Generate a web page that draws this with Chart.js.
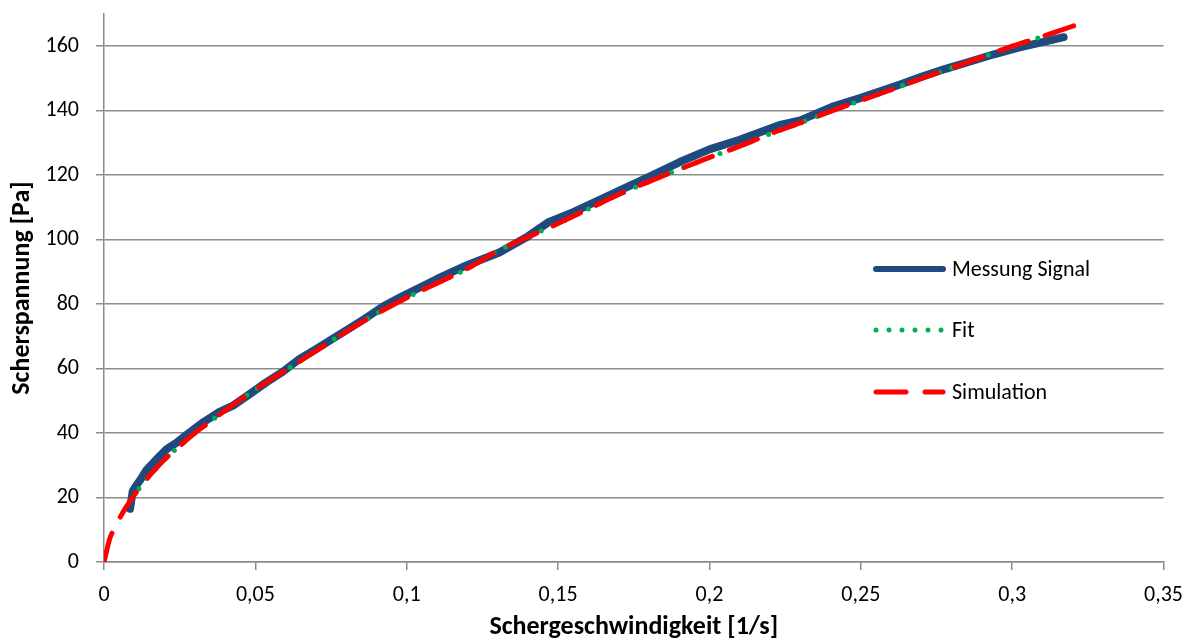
<!DOCTYPE html>
<html>
<head>
<meta charset="utf-8">
<script src="https://cdn.jsdelivr.net/npm/chart.js@4.4.1/dist/chart.umd.min.js"></script>
<style>
  html, body { margin: 0; padding: 0; background: #fff; }
  #wrap { width: 1195px; height: 640px; }
</style>
</head>
<body>
<div id="wrap"><canvas id="chart"></canvas></div>
<script>
// Messung Signal (measured)
const messX = [0.0086, 0.0090, 0.0095, 0.0105, 0.012, 0.014, 0.016, 0.018, 0.0207, 0.024,
  0.0284, 0.033, 0.038, 0.0426, 0.048, 0.0537, 0.059, 0.0646, 0.070, 0.076,
  0.082, 0.087, 0.092, 0.098, 0.104, 0.110, 0.1197, 0.1306, 0.140, 0.147,
  0.155, 0.163, 0.172, 0.180, 0.190, 0.200, 0.210, 0.223, 0.230, 0.2405,
  0.250, 0.2625, 0.270, 0.278, 0.2856, 0.294, 0.3021, 0.310, 0.317];
const messY = [16.5, 19, 22, 23.5, 25.5, 28.5, 30.5, 32.5, 35, 37,
  40.3, 43.5, 46.5, 48.5, 52, 55.8, 59, 63, 66, 69.5,
  73, 76, 79.2, 82.2, 85, 87.8, 92, 96, 101, 105.5,
  108.5, 112, 116, 119.5, 124, 128, 131, 135.5, 137, 141.2,
  144, 148, 150.5, 153, 155.1, 157.5, 159.6, 161.3, 162.8];

// Fit
const fitX = [0.009, 0.010, 0.013, 0.016, 0.020, 0.025, 0.030, 0.035, 0.040, 0.050,
  0.060, 0.070, 0.080, 0.090, 0.100, 0.110, 0.120, 0.130, 0.140, 0.150,
  0.160, 0.170, 0.180, 0.190, 0.200, 0.210, 0.220, 0.230, 0.240, 0.250,
  0.260, 0.270, 0.280, 0.290, 0.300, 0.310, 0.3147];
const fitY = [19.5, 20.8, 24.5, 27.8, 31.8, 36, 40, 43.5, 47, 53.5,
  59.5, 65.5, 71.5, 77, 82, 86.5, 91, 96.5, 100.8, 105,
  109.5, 114, 118, 121.8, 125.5, 129, 132.8, 136.2, 139.8, 143.2,
  146.5, 150, 153.3, 156.6, 160, 163, 164.5];

// Simulation
const simX = [0, 0.002, 0.004, 0.006, 0.008, 0.010, 0.013, 0.016, 0.020, 0.025,
  0.030, 0.035, 0.040, 0.050, 0.060, 0.070, 0.080, 0.090, 0.100, 0.110,
  0.120, 0.130, 0.140, 0.150, 0.160, 0.170, 0.180, 0.190, 0.200, 0.210,
  0.220, 0.230, 0.240, 0.250, 0.260, 0.270, 0.280, 0.290, 0.300, 0.310,
  0.3147, 0.3252];
const simY = [0, 7.5, 11.5, 15, 18, 20.8, 24.5, 27.8, 31.8, 36,
  40, 43.5, 47, 53.5, 59.5, 65.5, 71.5, 77, 82, 86.5,
  91, 96.5, 100.8, 105, 109.5, 114, 118, 121.8, 125.5, 129,
  132.8, 136.2, 139.8, 143.2, 146.5, 150, 153.3, 156.6, 160, 163,
  164.5, 167.9];

const seriesNames = ['Messung Signal', 'Fit', 'Simulation'];
const xTitle = 'Schergeschwindigkeit [1/s]';
const yTitle = 'Scherspannung [Pa]';

const FONT = 'Carlito, Calibri, Lato, sans-serif';
const GRID = '#8c8c8c';
const BLUE = '#1f4a7e';
const GREEN = '#00b050';
const RED = '#ff0000';

function pts(xs, ys) {
  return xs.map((x, i) => ({ x: x, y: ys[i] }));
}

// legend drawn inside the plot, right side
const innerLegend = {
  id: 'innerLegend',
  afterDraw(chart) {
    const ctx = chart.ctx;
    const x0 = 873, x1 = 946, tx = 952;
    const rows = [269, 330, 392];
    ctx.save();
    ctx.lineCap = 'round';
    // Messung
    ctx.strokeStyle = BLUE; ctx.lineWidth = 6; ctx.setLineDash([]);
    ctx.beginPath(); ctx.moveTo(x0 + 3, rows[0]); ctx.lineTo(x1 - 3, rows[0]); ctx.stroke();
    // Fit
    ctx.strokeStyle = GREEN; ctx.lineWidth = 5; ctx.setLineDash([0, 13]);
    ctx.beginPath(); ctx.moveTo(x0 + 3, rows[1]); ctx.lineTo(x1, rows[1]); ctx.stroke();
    // Simulation
    ctx.strokeStyle = RED; ctx.lineWidth = 5; ctx.setLineDash([30, 19]);
    ctx.beginPath(); ctx.moveTo(x0 + 3, rows[2]); ctx.lineTo(x1 - 3, rows[2]); ctx.stroke();
    ctx.setLineDash([]);
    ctx.fillStyle = '#000';
    ctx.font = '22px ' + FONT;
    ctx.textBaseline = 'middle';
    ctx.textAlign = 'left';
    rows.forEach((y, i) => ctx.fillText(seriesNames[i], tx, y + 1));
    ctx.restore();
  }
};

new Chart(document.getElementById('chart'), {
  type: 'scatter',
  data: {
    datasets: [
      {
        label: seriesNames[0],
        data: pts(messX, messY),
        showLine: true,
        borderColor: BLUE,
        borderWidth: 8,
        borderCapStyle: 'round',
        borderJoinStyle: 'round',
        pointRadius: 0,
        tension: 0,
        order: 3
      },
      {
        label: seriesNames[1],
        data: pts(fitX, fitY),
        showLine: true,
        borderColor: GREEN,
        borderWidth: 5,
        borderDash: [0, 13],
        borderCapStyle: 'round',
        pointRadius: 0,
        tension: 0.3,
        order: 2
      },
      {
        label: seriesNames[2],
        data: pts(simX, simY),
        showLine: true,
        borderColor: RED,
        borderWidth: 5,
        borderDash: [30, 18],
        borderCapStyle: 'round',
        pointRadius: 0,
        tension: 0.3,
        order: 1
      }
    ]
  },
  options: {
    responsive: true,
    maintainAspectRatio: false,
    animation: false,
    layout: { padding: { top: 14, right: 29, left: 0, bottom: 0 } },
    plugins: {
      legend: { display: false },
      tooltip: { enabled: false }
    },
    scales: {
      x: {
        type: 'linear',
        min: 0,
        max: 0.35,
        afterFit(scale) { scale.height = 78; },
        ticks: {
          stepSize: 0.05,
          padding: 12,
          color: '#000',
          font: { family: FONT, size: 22 },
          maxRotation: 0,
          callback: v => String(Math.round(v * 100) / 100).replace('.', ',')
        },
        grid: {
          display: true,
          drawOnChartArea: false,
          drawTicks: true,
          tickLength: 8,
          color: GRID,
          lineWidth: 1.5
        },
        border: { display: true, color: GRID, width: 1.5 },
        title: {
          display: true,
          text: xTitle,
          color: '#000',
          font: { family: FONT, size: 26, weight: 'bold', lineHeight: 1 },
          padding: { top: 0, bottom: 0 }
        }
      },
      y: {
        type: 'linear',
        min: 0,
        max: 170,
        afterFit(scale) {
          scale.width = 104;
          scale.paddingTop = 0;
          scale.paddingBottom = 0;
        },
        afterBuildTicks(scale) {
          scale.ticks = scale.ticks.filter(t => t.value <= 160);
        },
        ticks: {
          stepSize: 20,
          padding: 17,
          color: '#000',
          font: { family: FONT, size: 22 }
        },
        grid: {
          color: GRID,
          lineWidth: 1.5,
          tickLength: 8
        },
        border: { display: true, color: GRID, width: 1.5 },
        title: {
          display: true,
          text: yTitle,
          color: '#000',
          font: { family: FONT, size: 26, weight: 'bold', lineHeight: 1 },
          padding: { top: 9, bottom: 0 }
        }
      }
    }
  },
  plugins: [innerLegend]
});
</script>
</body>
</html>
